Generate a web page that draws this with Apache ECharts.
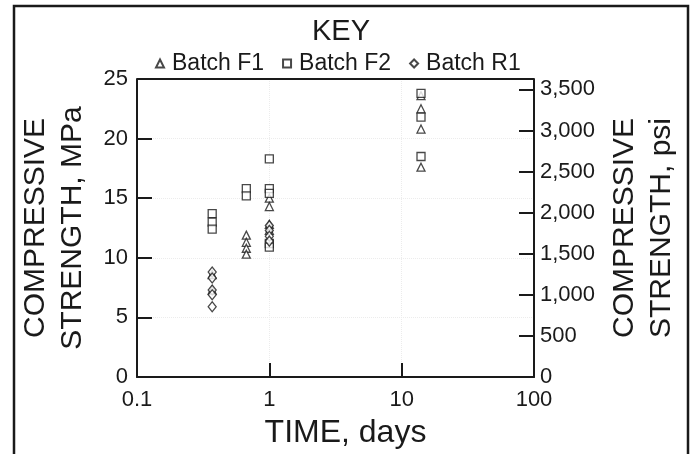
<!DOCTYPE html>
<html><head><meta charset="utf-8">
<script src="https://cdn.jsdelivr.net/npm/echarts@6/dist/echarts.min.js"></script>
<style>html,body{margin:0;padding:0;background:#fff}#c{width:693px;height:454px}</style>
</head><body><div id="c"></div>
<script>
// Data (time in days, strength in MPa)
const f1Times  = [0.37, 0.37, 0.67, 0.67, 0.67, 0.67, 1, 1, 1, 1, 14, 14, 14, 14];
const f1Values = [8.6, 7.3, 11.9, 11.3, 10.8, 10.3, 15.0, 14.3, 12.8, 12.3, 23.6, 22.5, 20.8, 17.6];
const f2Times  = [0.37, 0.37, 0.37, 0.67, 0.67, 1, 1, 1, 1, 1, 14, 14, 14];
const f2Values = [13.7, 13.0, 12.4, 15.8, 15.2, 18.3, 15.8, 15.4, 11.2, 10.9, 23.8, 21.8, 18.5];
const r1Times  = [0.37, 0.37, 0.37, 0.37, 0.37, 1, 1, 1, 1];
const r1Values = [8.8, 8.3, 7.3, 6.9, 5.9, 12.7, 12.3, 11.8, 11.4];
const seriesNames = ['Batch F1', 'Batch F2', 'Batch R1'];
const yTicksMPa = [0, 5, 10, 15, 20, 25];
const psiPerMPa = 145.038;

const pair = (ts, vs) => ts.map((t, i) => [t, vs[i]]);
const FONT = 'Liberation Sans, Arial, sans-serif';
const INK = '#1a1a1a';
const chart = echarts.init(document.getElementById('c'), null, {renderer: 'canvas'});
const mk = (name, sym, size, data) => ({
  name, type: 'scatter', symbol: sym, symbolSize: size, data, z: 5,
  itemStyle: {color: '#fff', borderColor: INK, borderWidth: 1.3}
});
const tickLabel = {fontFamily: FONT, fontSize: 22, color: INK};
const titleStyle = {fontFamily: FONT, fontSize: 30, color: INK, lineHeight: 37};
chart.setOption({
  animation: false,
  backgroundColor: '#fff',
  textStyle: {fontFamily: FONT},
  title: {text: 'KEY', left: 336, top: 12, textAlign: 'center',
    textStyle: {fontFamily: FONT, fontSize: 29, fontWeight: 'normal', color: INK}},
  legend: {
    top: 47, left: 150, itemGap: 18, itemWidth: 8, itemHeight: 8,
    textStyle: {fontFamily: FONT, fontSize: 23, color: INK, padding: [0, 0, 0, 3]},
    data: seriesNames
  },
  grid: {left: 137, right: 159, top: 79, bottom: 76},
  xAxis: {
    type: 'log', logBase: 10, min: 0.1, max: 100,
    name: 'TIME, days', nameLocation: 'middle', nameGap: 40,
    nameTextStyle: {fontFamily: FONT, fontSize: 32, color: INK, padding: [0, 0, 0, 20]},
    axisLine: {lineStyle: {color: INK, width: 2}},
    axisTick: {inside: true, length: 14, lineStyle: {color: INK, width: 2}},
    axisLabel: Object.assign({margin: 12, formatter: v => String(v)}, tickLabel),
    splitLine: {show: true, lineStyle: {color: '#ececec', type: 'dotted'}},
    minorTick: {show: false}
  },
  yAxis: [{
    type: 'value', min: 0, max: 25, interval: 5, position: 'left',
    name: 'COMPRESSIVE\nSTRENGTH, MPa', nameLocation: 'middle', nameGap: 46, nameRotate: 90,
    nameTextStyle: titleStyle,
    axisLine: {show: true, lineStyle: {color: INK, width: 2}},
    axisTick: {show: true, inside: true, length: 15, lineStyle: {color: INK, width: 2}},
    axisLabel: Object.assign({margin: 9, formatter: v => yTicksMPa.includes(v) ? String(v) : ''}, tickLabel),
    splitLine: {show: true, lineStyle: {color: '#ececec', type: 'dotted'}}
  }, {
    type: 'value', min: 0, max: 25 * psiPerMPa, interval: 500, position: 'right',
    name: 'COMPRESSIVE\nSTRENGTH, psi', nameLocation: 'middle', nameGap: 72, nameRotate: 90,
    nameTextStyle: titleStyle,
    axisLine: {show: true, lineStyle: {color: INK, width: 2}},
    axisTick: {show: true, inside: true, length: 15, lineStyle: {color: INK, width: 2}},
    axisLabel: Object.assign({margin: 6, showMaxLabel: false, formatter: v => v.toLocaleString('en-US')}, tickLabel),
    splitLine: {show: false}
  }],
  graphic: [{
    type: 'rect', shape: {x: 14, y: 6, width: 674, height: 470},
    style: {fill: 'none', stroke: INK, lineWidth: 2.5}, silent: true
  }, {
    type: 'line', shape: {x1: 137, y1: 79, x2: 534, y2: 79}, z: 50,
    style: {stroke: INK, lineWidth: 2}, silent: true
  }],
  series: [
    mk(seriesNames[0], 'triangle', 8, pair(f1Times, f1Values)),
    mk(seriesNames[1], 'rect', 8, pair(f2Times, f2Values)),
    mk(seriesNames[2], 'diamond', [8, 10], pair(r1Times, r1Values))
  ]
});
</script></body></html>
